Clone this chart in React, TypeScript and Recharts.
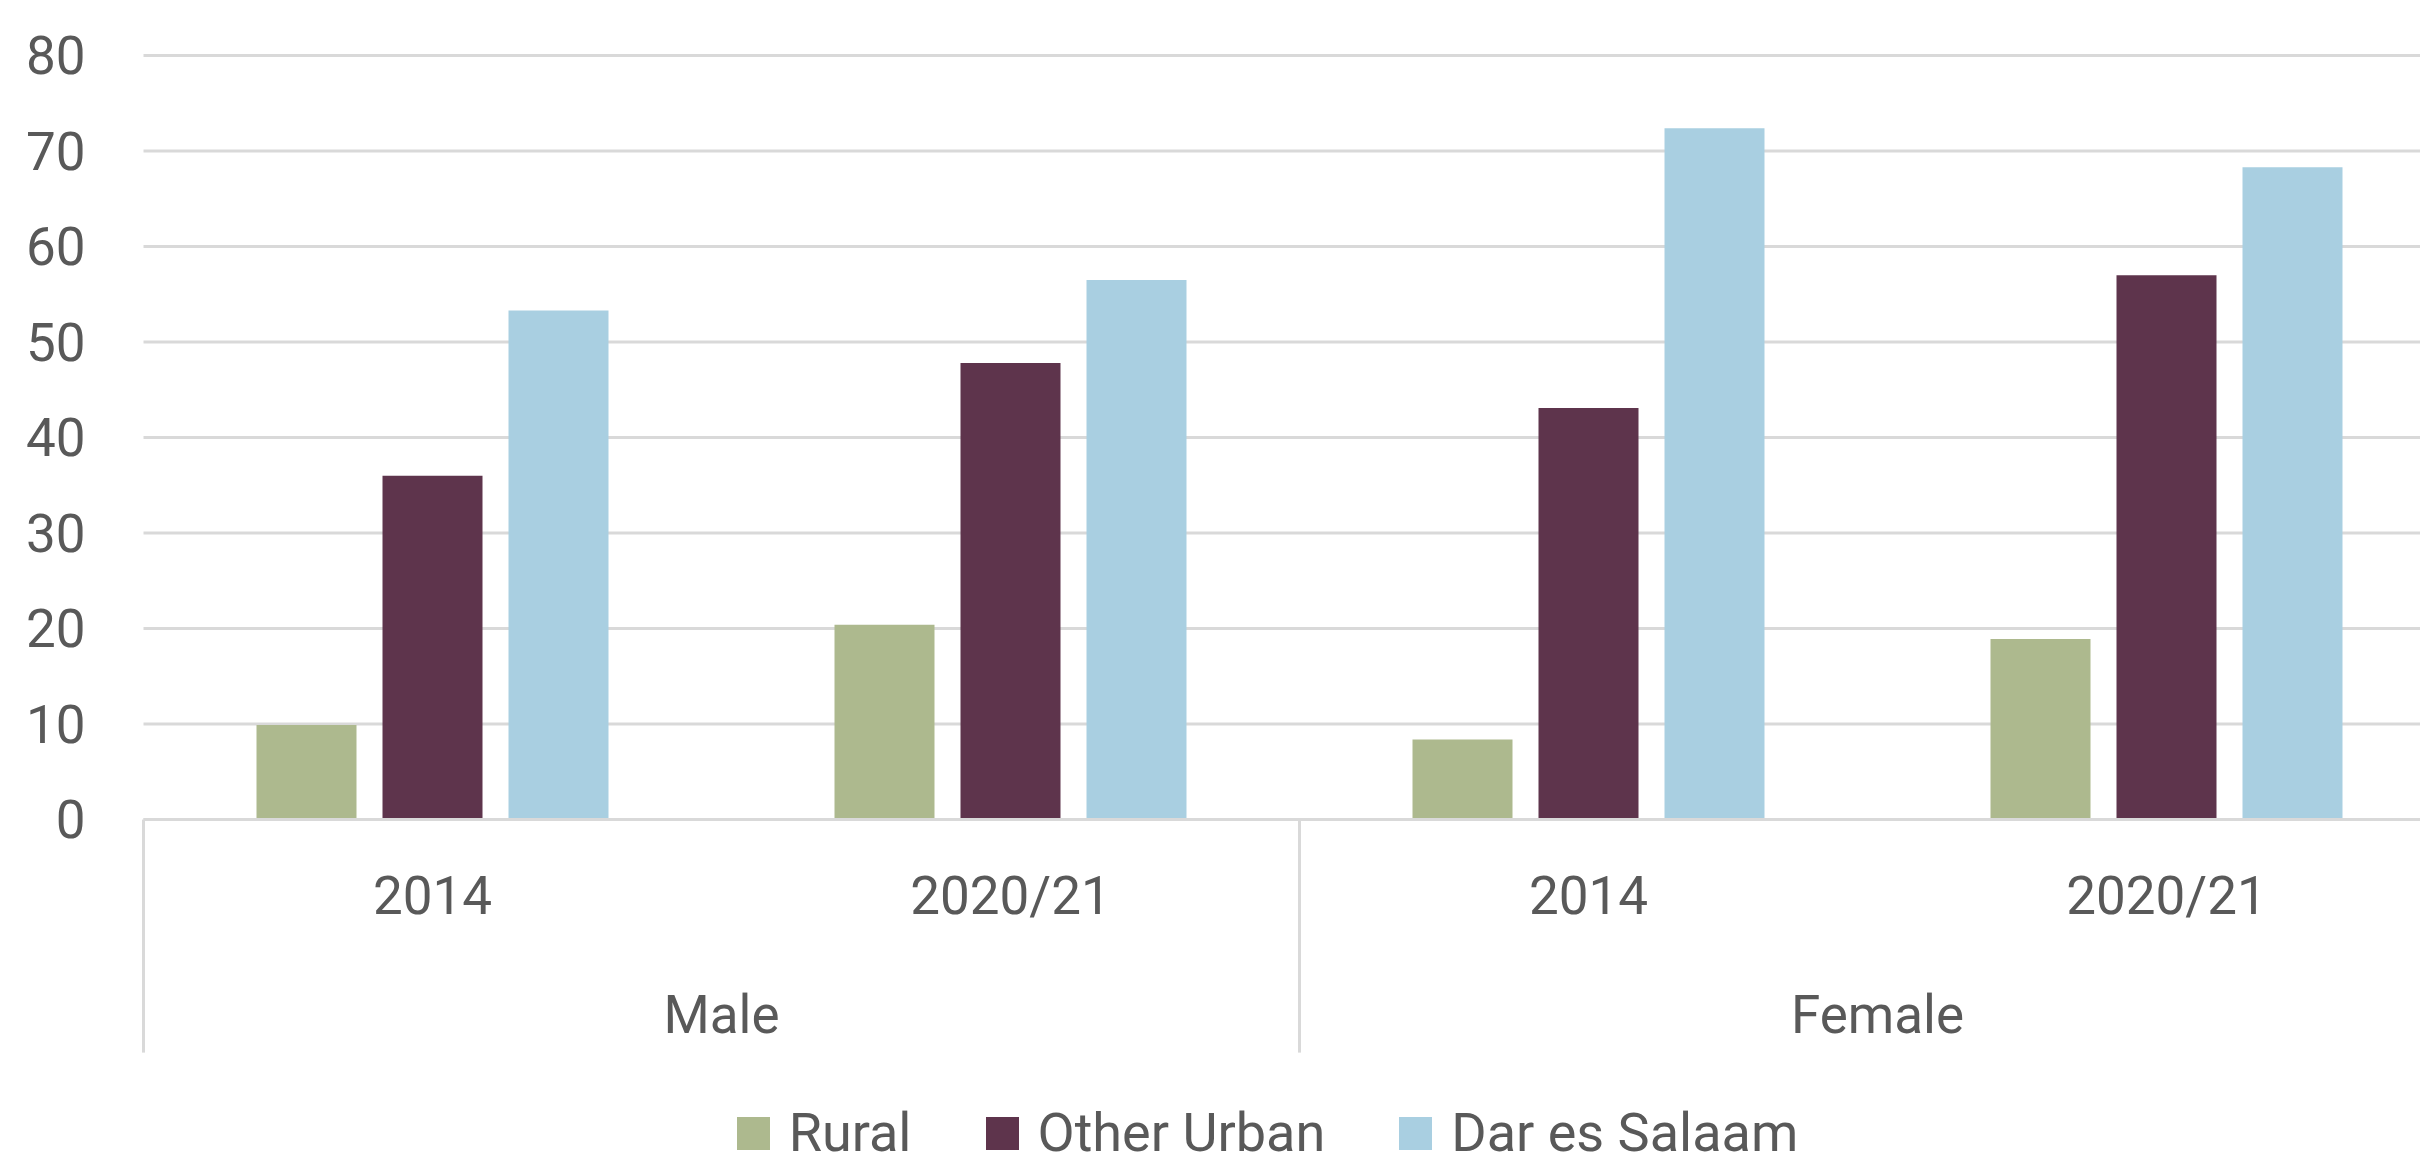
import React from 'react';
import { BarChart, Bar, XAxis, YAxis, CartesianGrid } from 'recharts';

const groups = ['Male', 'Male', 'Female', 'Female'];
const years = ['2014', '2020/21', '2014', '2020/21'];
const rural = [9.9, 20.4, 8.4, 18.9];
const otherUrban = [36.0, 47.8, 43.1, 57.0];
const darEsSalaam = [53.3, 56.5, 72.4, 68.3];
const yTicks = [0, 10, 20, 30, 40, 50, 60, 70, 80];

const series = [
  { key: 'rural', name: 'Rural', color: '#adb98e' },
  { key: 'otherUrban', name: 'Other Urban', color: '#5e344c' },
  { key: 'dar', name: 'Dar es Salaam', color: '#a9cfe1' },
];

const data = years.map((year, i) => ({
  id: `${groups[i]}|${year}`,
  group: groups[i],
  rural: rural[i],
  otherUrban: otherUrban[i],
  dar: darEsSalaam[i],
}));

const FONT = 'Roboto, "Noto Sans", sans-serif';
const TEXT = '#595959';
const GRID = '#d9d9d9';
const FONT_SIZE = 53;
const YEAR_AXIS_H = 100;
const GROUP_AXIS_H = 133;

function YearTick({ x, y, payload }: any) {
  const label = String(payload.value).split('|')[1];
  return (
    <text x={x} y={y + 94} textAnchor="middle" fill={TEXT} fontSize={FONT_SIZE} fontFamily={FONT}>
      {label}
    </text>
  );
}

// second row of the axis: group label plus the separators between groups
function GroupTick({ x, y, payload, index, width, visibleTicksCount }: any) {
  const half = width && visibleTicksCount ? width / visibleTicksCount / 2 : 0;
  const last = index === visibleTicksCount - 1;
  return (
    <g>
      <line x1={x - half} x2={x - half} y1={y - YEAR_AXIS_H} y2={y + GROUP_AXIS_H} stroke={GRID} strokeWidth={3} />
      {last && (
        <line x1={x + half} x2={x + half} y1={y - YEAR_AXIS_H} y2={y + GROUP_AXIS_H} stroke={GRID} strokeWidth={3} />
      )}
      <text x={x} y={y + 113} textAnchor="middle" fill={TEXT} fontSize={FONT_SIZE} fontFamily={FONT}>
        {payload.value}
      </text>
    </g>
  );
}

function LegendRow() {
  return (
    <div
      style={{
        position: 'absolute',
        left: 0,
        top: 1109,
        width: 2535,
        height: 48,
        display: 'flex',
        justifyContent: 'center',
        alignItems: 'center',
        fontFamily: FONT,
        fontSize: 54,
        color: TEXT,
      }}
    >
      {series.map((s, i) => (
        <div key={s.key} style={{ display: 'flex', alignItems: 'center', marginRight: i < series.length - 1 ? 74 : 0 }}>
          <span style={{ width: 33, height: 33, background: s.color, display: 'inline-block', marginRight: 19 }} />
          <span style={{ lineHeight: '48px', whiteSpace: 'nowrap' }}>{s.name}</span>
        </div>
      ))}
    </div>
  );
}

export default function App() {
  return (
    <div style={{ position: 'absolute', left: 0, top: 0, width: 2420, height: 1165, overflow: 'hidden', background: '#fff' }}>
      <BarChart
        width={2460}
        height={1165}
        data={data}
        margin={{ top: 55.6, right: 4.5, left: 0, bottom: 112.4 }}
        barSize={100}
        barGap={26}
        style={{ fontFamily: FONT }}
      >
        <CartesianGrid vertical={false} stroke={GRID} strokeWidth={3} />
        <XAxis
          dataKey="id"
          height={YEAR_AXIS_H}
          interval={0}
          tickLine={false}
          tickSize={0}
          tickMargin={0}
          axisLine={{ stroke: GRID, strokeWidth: 3 }}
          tick={<YearTick />}
        />
        <XAxis
          xAxisId="group"
          dataKey="group"
          allowDuplicatedCategory={false}
          height={GROUP_AXIS_H}
          interval={0}
          tickLine={false}
          tickSize={0}
          tickMargin={0}
          axisLine={false}
          tick={<GroupTick />}
        />
        <YAxis
          domain={[0, 80]}
          ticks={yTicks}
          width={143.5}
          axisLine={false}
          tickLine={false}
          tickSize={0}
          tickMargin={58}
          tick={{ fill: TEXT, fontSize: FONT_SIZE, fontFamily: FONT }}
        />
        {series.map((s) => (
          <Bar key={s.key} dataKey={s.key} name={s.name} fill={s.color} isAnimationActive={false} />
        ))}
      </BarChart>
      <LegendRow />
    </div>
  );
}
